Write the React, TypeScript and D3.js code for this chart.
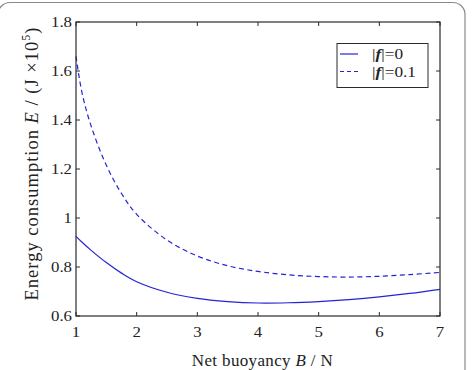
import React, { useEffect, useRef } from 'react';
import * as d3 from 'd3';

// net buoyancy B (N)
const buoyancy = [1, 1.1, 1.25, 1.5, 1.75, 2, 2.5, 3, 3.5, 4, 4.5, 5, 5.5, 6, 6.5, 7];
// energy consumption (J x 10^5), |f| = 0
const energyF0 = [0.925, 0.901, 0.868, 0.818, 0.775, 0.74, 0.697, 0.672, 0.659, 0.653, 0.654, 0.659, 0.667, 0.678, 0.692, 0.709];
// energy consumption (J x 10^5), |f| = 0.1
const energyF01 = [1.66, 1.51, 1.375, 1.215, 1.1, 1.015, 0.91, 0.845, 0.805, 0.782, 0.768, 0.761, 0.759, 0.762, 0.769, 0.778];

const xTicks = [1, 2, 3, 4, 5, 6, 7];
const yTicks = [0.6, 0.8, 1, 1.2, 1.4, 1.6, 1.8];
const yTickLabels = ['0.6', '0.8', '1', '1.2', '1.4', '1.6', '1.8'];
const legendLabels = ['0', '0.1'];

const App = () => {
  const ref = useRef<SVGSVGElement>(null);

  useEffect(() => {
    const svg = d3.select(ref.current);
    svg.selectAll('*').remove();
    const width = 475;
    const height = 370;
    const font = '"Liberation Serif", "Times New Roman", serif';
    const axisColor = '#2b2b2b';
    const textColor = '#222';
    const lineColor = '#2424d4';

    const left = 76, right = 440, top = 22, bottom = 316;
    const x = d3.scaleLinear().domain([1, 7]).range([left, right]);
    const y = d3.scaleLinear().domain([0.6, 1.8]).range([bottom, top]);

    svg.attr('width', width).attr('height', height);

    // the source figure is a bit wider than tall, so text is stretched sideways
    const label = (px: number, py: number, size: number, sx: number, anchor: string) =>
      svg.append('text')
        .attr('transform', `translate(${px},${py}) scale(${sx},1)`)
        .attr('text-anchor', anchor)
        .attr('font-family', font)
        .attr('font-size', size)
        .attr('fill', textColor);

    // spread the letters of a label so it runs `len` px, then centre it on its origin
    const fitCentre = (sel: any, len: number) => {
      const node = sel.node() as SVGTextElement;
      const b0 = node.getBBox();
      const n = node.getNumberOfChars();
      if (b0.width > 0 && n > 1) {
        sel.attr('letter-spacing', (len - b0.width) / (n - 1));
        const b = node.getBBox();
        sel.attr('x', -(b.x + b.width / 2));
      }
    };

    svg.append('rect')
      .attr('x', -2).attr('y', 2.5)
      .attr('width', 467).attr('height', 400)
      .attr('rx', 12)
      .attr('fill', 'white')
      .attr('stroke', '#8a8a8a')
      .attr('stroke-width', 1.2);

    // curves
    const line = d3.line<number>()
      .x((_, i) => x(buoyancy[i]))
      .y((d) => y(d))
      .curve(d3.curveCatmullRom);

    svg.append('path')
      .attr('d', line(energyF0))
      .attr('fill', 'none')
      .attr('stroke', lineColor)
      .attr('stroke-width', 1.2);

    svg.append('path')
      .attr('d', line(energyF01))
      .attr('fill', 'none')
      .attr('stroke', lineColor)
      .attr('stroke-width', 1.2)
      .attr('stroke-dasharray', '5,3.5');

    // box
    svg.append('rect')
      .attr('x', left).attr('y', top)
      .attr('width', right - left).attr('height', bottom - top)
      .attr('fill', 'none')
      .attr('stroke', axisColor)
      .attr('stroke-width', 1.2);

    const tickLen = 4;
    const g = svg.append('g').attr('stroke', axisColor).attr('stroke-width', 1);
    xTicks.forEach((t) => {
      g.append('line').attr('x1', x(t)).attr('x2', x(t)).attr('y1', bottom).attr('y2', bottom - tickLen);
      g.append('line').attr('x1', x(t)).attr('x2', x(t)).attr('y1', top).attr('y2', top + tickLen);
    });
    yTicks.forEach((t) => {
      g.append('line').attr('x1', left).attr('x2', left + tickLen).attr('y1', y(t)).attr('y2', y(t));
      g.append('line').attr('x1', right).attr('x2', right - tickLen).attr('y1', y(t)).attr('y2', y(t));
    });

    xTicks.forEach((t) => {
      label(x(t), 337, 15, 1.12, 'middle').text(String(t));
    });
    yTicks.forEach((t, i) => {
      label(72, y(t) + 5, 15, 1.12, 'end').text(yTickLabels[i]);
    });

    // x label, runs from about x=192 to x=333
    const xl = svg.append('text')
      .attr('transform', 'translate(262.5,366)')
      .attr('font-family', font)
      .attr('font-size', 17)
      .attr('fill', textColor);
    xl.append('tspan').text('Net buoyancy ');
    xl.append('tspan').attr('font-style', 'italic').text('B');
    xl.append('tspan').text(' / N');
    fitCentre(xl, 141);

    // y label, runs from about y=300 up to y=27
    const yl = svg.append('text')
      .attr('transform', 'translate(38,163.5) rotate(-90)')
      .attr('font-family', font)
      .attr('font-size', 18.5)
      .attr('fill', textColor);
    yl.append('tspan').text('Energy consumption ');
    yl.append('tspan').attr('font-style', 'italic').text('E');
    yl.append('tspan').text(' / (J \u00d710');
    yl.append('tspan').attr('font-size', 12).attr('dy', -8).text('5');
    yl.append('tspan').attr('dy', 8).text(')');
    fitCentre(yl, 273);

    // legend
    svg.append('rect')
      .attr('x', 337).attr('y', 43.5)
      .attr('width', 91).attr('height', 44)
      .attr('fill', 'white')
      .attr('stroke', axisColor)
      .attr('stroke-width', 1);
    legendLabels.forEach((lab, i) => {
      const ly = 54 + i * 17.5;
      svg.append('line')
        .attr('x1', 340).attr('x2', 358)
        .attr('y1', ly).attr('y2', ly)
        .attr('stroke', lineColor)
        .attr('stroke-width', 1.2)
        .attr('stroke-dasharray', i === 1 ? '4,3' : null);
      const t = label(372, ly + 5, 15, 1.15, 'start');
      t.append('tspan').text('|');
      t.append('tspan').attr('font-style', 'italic').attr('font-weight', 'bold').text('f');
      t.append('tspan').text('|=' + lab);
    });
  }, []);

  return <svg ref={ref} style={{ position: 'absolute', left: 0, top: 0 }} />;
};

export default App;
